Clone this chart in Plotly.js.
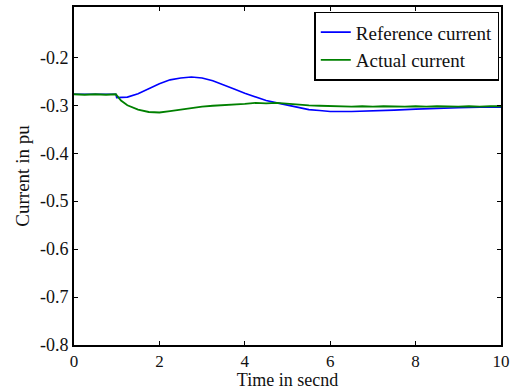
<!DOCTYPE html>
<html>
<head>
<meta charset="utf-8">
<script src="https://cdn.plot.ly/plotly-3.0.1.min.js"></script>
<style>html,body{margin:0;padding:0;background:#fff;}#chart{width:515px;height:390px;}</style>
</head>
<body>
<div id="chart"></div>
<script>
// Time (s)
const timeRef = [0, 0.5, 0.98, 1.0, 1.25, 1.5, 1.75, 2.0, 2.25, 2.5, 2.75, 3.0, 3.25, 3.5, 3.75, 4.0, 4.25, 4.5, 4.75, 5.0, 5.25, 5.5, 5.75, 6.0, 6.5, 7.0, 7.5, 8.0, 8.5, 9.0, 9.5, 10.0];
const refCurrent = [-0.277, -0.277, -0.277, -0.284, -0.283, -0.276, -0.265, -0.255, -0.247, -0.243, -0.241, -0.243, -0.249, -0.257, -0.266, -0.275, -0.283, -0.290, -0.295, -0.300, -0.305, -0.309, -0.311, -0.313, -0.313, -0.312, -0.310, -0.308, -0.306, -0.305, -0.304, -0.304];

const timeAct = [0, 0.25, 0.5, 0.75, 0.98, 1.0, 1.1, 1.25, 1.5, 1.75, 2.0, 2.25, 2.5, 2.75, 3.0, 3.25, 3.5, 3.75, 4.0, 4.25, 4.5, 4.75, 5.0, 5.25, 5.5, 5.75, 6.0, 6.25, 6.5, 6.75, 7.0, 7.25, 7.5, 7.75, 8.0, 8.25, 8.5, 8.75, 9.0, 9.25, 9.5, 9.75, 10.0];
const actCurrent = [-0.277, -0.278, -0.277, -0.278, -0.277, -0.279, -0.290, -0.300, -0.309, -0.314, -0.315, -0.312, -0.309, -0.305, -0.303, -0.301, -0.300, -0.298, -0.297, -0.295, -0.296, -0.295, -0.297, -0.298, -0.300, -0.301, -0.302, -0.302, -0.303, -0.302, -0.303, -0.302, -0.303, -0.303, -0.302, -0.303, -0.302, -0.303, -0.303, -0.302, -0.303, -0.302, -0.302];

const seriesNames = ["Reference current", "Actual current"];
const xTicks = [0, 2, 4, 6, 8, 10];
const yTicks = [-0.8, -0.7, -0.6, -0.5, -0.4, -0.3, -0.2];

const fam = "Liberation Serif, Times New Roman, serif";
const tickFont = {family: fam, size: 18, color: "#111"};
const xTickFont = {family: fam, size: 17, color: "#111"};
const titleFont = {family: fam, size: 19, color: "#111"};
const xTitleFont = {family: fam, size: 18, color: "#111"};
const legendFont = {family: fam, size: 19, color: "#111"};

const traces = [
  {x: timeRef, y: refCurrent, name: seriesNames[0], mode: "lines", line: {color: "#0000ff", width: 1.6}},
  {x: timeAct, y: actCurrent, name: seriesNames[1], mode: "lines", line: {color: "#008000", width: 1.8}}
];

const layout = {
  width: 515, height: 390,
  margin: {l: 74, r: 14, t: 7, b: 45},
  paper_bgcolor: "#fff", plot_bgcolor: "#fff",
  font: tickFont,
  showlegend: true,
  legend: {x: 0.996, y: 0.986, xanchor: "right", yanchor: "top", bgcolor: "#fff", bordercolor: "#000", borderwidth: 1.5, font: legendFont, tracegroupgap: 0, itemwidth: 30},
  xaxis: {
    range: [0, 10], tickvals: xTicks, ticktext: xTicks.map(String),
    ticks: "inside", ticklen: 4, tickcolor: "#000", tickwidth: 1,
    showline: true, linecolor: "#000", linewidth: 2, mirror: "ticks",
    showgrid: false, zeroline: false,
    tickfont: xTickFont,
    title: {text: "Time in secnd", font: xTitleFont, standoff: 2}
  },
  yaxis: {
    range: [-0.8, -0.095], tickvals: yTicks, ticktext: yTicks.map(v => v.toFixed(1)),
    ticks: "inside", ticklen: 4, tickcolor: "#000", tickwidth: 1,
    showline: true, linecolor: "#000", linewidth: 2, mirror: "ticks",
    showgrid: false, zeroline: false,
    tickfont: tickFont,
    title: {text: "Current in pu", font: titleFont, standoff: 5}
  }
};

Plotly.newPlot("chart", traces, layout, {staticPlot: true, displayModeBar: false});
</script>
</body>
</html>
